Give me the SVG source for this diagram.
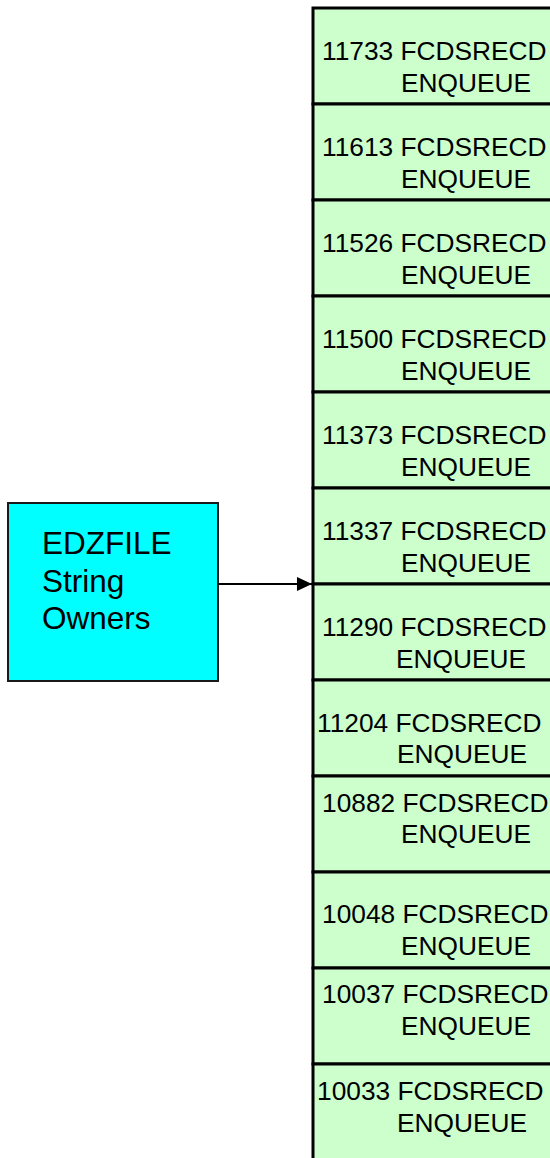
<svg xmlns="http://www.w3.org/2000/svg" width="550" height="1158" viewBox="0 0 550 1158">
<style>
.cell{fill:#CCFFCC;stroke:#000;stroke-width:3}
.t{font-family:"Liberation Sans",Arial,sans-serif;font-size:26.3px;fill:#000}
.src{fill:#00FFFF;stroke:#1a1a1a;stroke-width:2}
.st{font-family:"Liberation Sans",Arial,sans-serif;font-size:31.5px;fill:#000}
.conn{stroke:#000;stroke-width:2;fill:none}
</style>
<defs>
<marker id="ah" markerWidth="15" markerHeight="14" refX="15" refY="7" orient="auto" markerUnits="userSpaceOnUse">
<path d="M0,0 L15,7 L0,14 Z" fill="#000"/>
</marker>
</defs>
<rect width="550" height="1158" fill="#fff"/>
<g id="cell-11733"><rect class="cell" x="313" y="8" width="260" height="96"/><text class="t" x="322" y="60">11733 FCDSRECD</text><text class="t" x="401" y="92">ENQUEUE</text></g>
<g id="cell-11613"><rect class="cell" x="313" y="104" width="260" height="96"/><text class="t" x="322" y="156">11613 FCDSRECD</text><text class="t" x="401" y="188">ENQUEUE</text></g>
<g id="cell-11526"><rect class="cell" x="313" y="200" width="260" height="96"/><text class="t" x="322" y="252">11526 FCDSRECD</text><text class="t" x="401" y="284">ENQUEUE</text></g>
<g id="cell-11500"><rect class="cell" x="313" y="296" width="260" height="96"/><text class="t" x="322" y="348">11500 FCDSRECD</text><text class="t" x="401" y="380">ENQUEUE</text></g>
<g id="cell-11373"><rect class="cell" x="313" y="392" width="260" height="96"/><text class="t" x="322" y="444">11373 FCDSRECD</text><text class="t" x="401" y="476">ENQUEUE</text></g>
<g id="cell-11337"><rect class="cell" x="313" y="488" width="260" height="96"/><text class="t" x="322" y="540">11337 FCDSRECD</text><text class="t" x="401" y="572">ENQUEUE</text></g>
<g id="cell-11290"><rect class="cell" x="313" y="584" width="260" height="96"/><text class="t" x="322" y="636">11290 FCDSRECD</text><text class="t" x="396" y="668">ENQUEUE</text></g>
<g id="cell-11204"><rect class="cell" x="313" y="680" width="260" height="96"/><text class="t" x="317" y="732">11204 FCDSRECD</text><text class="t" x="397" y="763">ENQUEUE</text></g>
<g id="cell-10882"><rect class="cell" x="313" y="776" width="260" height="96"/><text class="t" x="322" y="812">10882 FCDSRECD</text><text class="t" x="401" y="843">ENQUEUE</text></g>
<g id="cell-10048"><rect class="cell" x="313" y="872" width="260" height="96"/><text class="t" x="322" y="923">10048 FCDSRECD</text><text class="t" x="401" y="955">ENQUEUE</text></g>
<g id="cell-10037"><rect class="cell" x="313" y="968" width="260" height="96"/><text class="t" x="322" y="1003">10037 FCDSRECD</text><text class="t" x="401" y="1035">ENQUEUE</text></g>
<g id="cell-10033"><rect class="cell" x="313" y="1064" width="260" height="110"/><text class="t" x="317" y="1100">10033 FCDSRECD</text><text class="t" x="397" y="1132">ENQUEUE</text></g>
<g id="edzfile"><rect class="src" x="8" y="503" width="210" height="178"/><text class="st" x="42" y="554">EDZFILE</text><text class="st" x="42" y="592">String</text><text class="st" x="42" y="629">Owners</text></g>
<g id="connectors"><line class="conn" x1="218" y1="584" x2="312" y2="584" marker-end="url(#ah)"/></g>
</svg>
